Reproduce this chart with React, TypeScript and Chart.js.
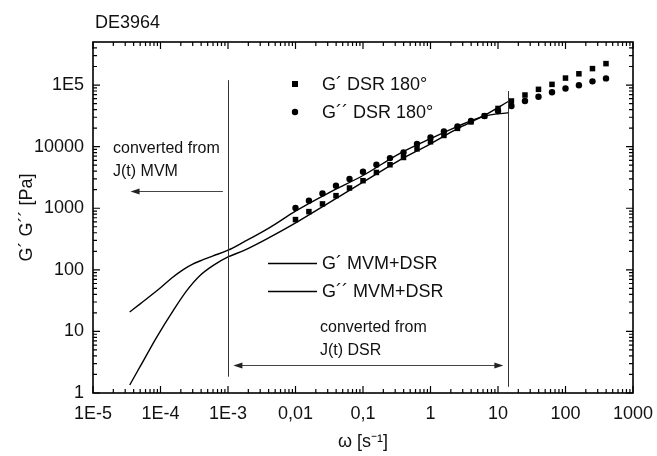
import React, { useEffect, useRef } from "react";
import { Chart, registerables } from "chart.js";

Chart.register(...registerables);

// ---- data ----
const omegaDSR = [0.01, 0.0158, 0.0251, 0.0398, 0.0631, 0.1, 0.158, 0.251, 0.398, 0.631, 1, 1.58, 2.51, 3.98, 6.31, 10, 15.8, 25.1, 39.8, 63.1, 100, 158, 251, 398];
const gPrimeDSR = [654, 881, 1175, 1600, 2130, 2800, 3810, 5080, 6670, 9200, 12000, 15200, 19800, 25200, 31500, 41700, 55100, 68900, 85200, 102600, 129800, 152300, 184900, 222800];
const gDoublePrimeDSR = [1012, 1327, 1742, 2321, 2980, 3910, 5080, 6520, 8030, 11100, 14100, 17700, 21300, 26100, 31500, 37900, 45700, 55100, 64400, 76400, 87800, 99300, 114800, 128300];

const omegaGpMVM = [3.5e-5, 5e-5, 8.8e-5, 1.55e-4, 2.45e-4, 3.85e-4, 6.05e-4, 1e-3, 1.7e-3, 4.2e-3, 0.0105, 0.0316, 0.1, 0.316, 1, 2.44, 6.07, 14.6];
const gPrimeMVM = [1.35, 2.7, 8.1, 22, 46, 81, 118, 162, 205, 340, 596, 1236, 2650, 5670, 11100, 19200, 31500, 55100];

const omegaGppMVM = [3.5e-5, 5e-5, 1e-4, 1.5e-4, 2.2e-4, 3e-4, 3.85e-4, 6e-4, 1e-3, 1.7e-3, 4.2e-3, 0.01, 0.0316, 0.1, 0.353, 1, 2.44, 6.07, 14.6];
const gDoublePrimeMVM = [20.7, 28, 51, 75, 102, 124, 139, 168, 208, 282, 490, 900, 1800, 3400, 7800, 13500, 21000, 31000, 35600];

const xTickValues = [1e-5, 1e-4, 1e-3, 0.01, 0.1, 1, 10, 100, 1000];
const xTickLabels = ["1E-5", "1E-4", "1E-3", "0,01", "0,1", "1", "10", "100", "1000"];
const yTickValues = [1, 10, 100, 1000, 10000, 100000];
const yTickLabels = ["1", "10", "100", "1000", "10000", "1E5"];

// boundary lines of the conversion ranges
const boundaryOmega = [1e-3, 14.3];
const boundaryLow = [1.84, 1.26];
const boundaryHigh = [120000, 80000];

// arrows: [level, from omega, to omega]
const arrowMVM = [1930, 8.4e-4, 3.6e-5];
const arrowDSR = [2.84, 1.2e-3, 12];

const FONT = "'Liberation Sans', Arial, Helvetica, sans-serif";

function arrowHead(ctx: CanvasRenderingContext2D, x: number, y: number, dir: number) {
  ctx.beginPath();
  ctx.moveTo(x, y);
  ctx.lineTo(x - dir * 9, y - 3);
  ctx.lineTo(x - dir * 9, y + 3);
  ctx.closePath();
  ctx.fill();
}

const decorPlugin = {
  id: "decor",
  afterDraw(chart: any) {
    const ctx: CanvasRenderingContext2D = chart.ctx;
    const xs = chart.scales.x;
    const ys = chart.scales.y;
    const { left, right, top, bottom } = chart.chartArea;
    ctx.save();

    // frame
    ctx.strokeStyle = "#000";
    ctx.lineWidth = 1.6;
    ctx.strokeRect(left, top, right - left, bottom - top);

    // ticks
    ctx.lineWidth = 1.2;
    ctx.beginPath();
    for (let k = -5; k <= 3; k++) {
      for (let m = 1; m <= 9; m++) {
        const v = m * Math.pow(10, k);
        if (v > 1000 * 1.0001) continue;
        const px = xs.getPixelForValue(v);
        const len = m === 1 ? 7 : 4;
        ctx.moveTo(px, bottom);
        ctx.lineTo(px, bottom - len);
        ctx.moveTo(px, top);
        ctx.lineTo(px, top + len);
      }
    }
    for (let k = 0; k <= 5; k++) {
      for (let m = 1; m <= 9; m++) {
        const v = m * Math.pow(10, k);
        if (v > 500000 * 0.9999) continue;
        const py = ys.getPixelForValue(v);
        const len = m === 1 ? 7 : 4;
        ctx.moveTo(left, py);
        ctx.lineTo(left + len, py);
        ctx.moveTo(right, py);
        ctx.lineTo(right - len, py);
      }
    }
    ctx.stroke();

    // boundary lines
    ctx.strokeStyle = "#333";
    ctx.lineWidth = 1;
    ctx.beginPath();
    boundaryOmega.forEach((w, i) => {
      const px = Math.round(xs.getPixelForValue(w)) + 0.5;
      ctx.moveTo(px, ys.getPixelForValue(boundaryLow[i]));
      ctx.lineTo(px, ys.getPixelForValue(boundaryHigh[i]));
    });
    ctx.stroke();

    // arrows
    ctx.fillStyle = "#222";
    ctx.strokeStyle = "#444";
    const a1y = Math.round(ys.getPixelForValue(arrowMVM[0])) + 0.5;
    const a1x0 = xs.getPixelForValue(arrowMVM[1]);
    const a1x1 = xs.getPixelForValue(arrowMVM[2]);
    ctx.beginPath();
    ctx.moveTo(a1x0, a1y);
    ctx.lineTo(a1x1 + 6, a1y);
    ctx.stroke();
    arrowHead(ctx, a1x1, a1y, -1);

    const a2y = Math.round(ys.getPixelForValue(arrowDSR[0])) + 0.5;
    const a2x0 = xs.getPixelForValue(arrowDSR[1]);
    const a2x1 = xs.getPixelForValue(arrowDSR[2]);
    ctx.beginPath();
    ctx.moveTo(a2x0 + 6, a2y);
    ctx.lineTo(a2x1 - 6, a2y);
    ctx.stroke();
    arrowHead(ctx, a2x0, a2y, -1);
    arrowHead(ctx, a2x1, a2y, 1);

    // texts
    ctx.fillStyle = "#111";
    ctx.textBaseline = "middle";
    ctx.textAlign = "left";
    ctx.font = `16px ${FONT}`;
    ctx.fillText("converted from", 113, 149);
    ctx.fillText("J(t) MVM", 113, 172);
    ctx.fillText("converted from", 320, 328);
    ctx.fillText("J(t) DSR", 320, 351);

    ctx.font = `18px ${FONT}`;
    ctx.fillText("DE3964", 95, 23);

    // legend
    ctx.fillStyle = "#000";
    ctx.fillRect(292, 81, 6, 6);
    ctx.beginPath();
    ctx.arc(295, 112, 3.2, 0, Math.PI * 2);
    ctx.fill();
    ctx.fillStyle = "#111";
    ctx.fillText("G\u00B4 DSR 180\u00B0", 322, 85);
    ctx.fillText("G\u00B4\u00B4 DSR 180\u00B0", 322, 113);

    ctx.strokeStyle = "#000";
    ctx.lineWidth = 1.4;
    ctx.beginPath();
    ctx.moveTo(268, 263.5);
    ctx.lineTo(317, 263.5);
    ctx.moveTo(268, 291.5);
    ctx.lineTo(317, 291.5);
    ctx.stroke();
    ctx.fillText("G\u00B4 MVM+DSR", 322, 264);
    ctx.fillText("G\u00B4\u00B4 MVM+DSR", 322, 292);

    // axis titles
    ctx.textAlign = "center";
    ctx.fillText("\u03C9 [s\u207B\u00B9]", (left + right) / 2, 442);
    ctx.save();
    ctx.translate(27, (top + bottom) / 2);
    ctx.rotate(-Math.PI / 2);
    ctx.fillText("G\u00B4 G\u00B4\u00B4 [Pa]", 0, 0);
    ctx.restore();

    ctx.restore();
  },
};

export default function App() {
  const canvasRef = useRef<HTMLCanvasElement | null>(null);

  useEffect(() => {
    if (!canvasRef.current) return;
    const pts = (xsArr: number[], ysArr: number[]) => xsArr.map((x, i) => ({ x, y: ysArr[i] }));
    const chart = new Chart(canvasRef.current, {
      type: "line",
      data: {
        datasets: [
          {
            label: "G\u00B4 DSR 180\u00B0",
            data: pts(omegaDSR, gPrimeDSR),
            showLine: false,
            pointStyle: "rect",
            pointRadius: 3.9,
            backgroundColor: "#000",
            borderColor: "#000",
            borderWidth: 0,
          },
          {
            label: "G\u00B4\u00B4 DSR 180\u00B0",
            data: pts(omegaDSR, gDoublePrimeDSR),
            showLine: false,
            pointStyle: "circle",
            pointRadius: 3.2,
            backgroundColor: "#000",
            borderColor: "#000",
            borderWidth: 0,
          },
          {
            label: "G\u00B4 MVM+DSR",
            data: pts(omegaGpMVM, gPrimeMVM),
            borderColor: "#000",
            borderWidth: 1.4,
            pointRadius: 0,
            cubicInterpolationMode: "monotone",
            fill: false,
          },
          {
            label: "G\u00B4\u00B4 MVM+DSR",
            data: pts(omegaGppMVM, gDoublePrimeMVM),
            borderColor: "#000",
            borderWidth: 1.4,
            pointRadius: 0,
            cubicInterpolationMode: "monotone",
            fill: false,
          },
        ],
      },
      options: {
        responsive: false,
        animation: false,
        events: [],
        layout: { padding: { left: 0, top: 42, right: 24, bottom: 0 } },
        plugins: { legend: { display: false }, tooltip: { enabled: false }, title: { display: false } },
        scales: {
          x: {
            type: "logarithmic",
            min: 1e-5,
            max: 1000,
            grid: { display: false, drawTicks: false },
            border: { display: false },
            afterBuildTicks: (scale: any) => {
              scale.ticks = xTickValues.map((v) => ({ value: v, major: true }));
            },
            afterFit: (scale: any) => {
              scale.height = 63;
              scale.paddingLeft = 0;
              scale.paddingRight = 0;
            },
            ticks: {
              autoSkip: false,
              maxRotation: 0,
              padding: 10,
              color: "#111",
              font: { family: FONT, size: 18 },
              callback: (value: any) => {
                const i = xTickValues.findIndex((v) => Math.abs(Math.log10(v) - Math.log10(Number(value))) < 1e-6);
                return i >= 0 ? xTickLabels[i] : "";
              },
            },
          },
          y: {
            type: "logarithmic",
            min: 1,
            max: 500000,
            grid: { display: false, drawTicks: false },
            border: { display: false },
            afterBuildTicks: (scale: any) => {
              scale.ticks = yTickValues.map((v) => ({ value: v, major: true }));
            },
            afterFit: (scale: any) => {
              scale.width = 93;
              scale.paddingTop = 0;
              scale.paddingBottom = 0;
            },
            ticks: {
              autoSkip: false,
              padding: 9,
              color: "#111",
              font: { family: FONT, size: 18 },
              callback: (value: any) => {
                const i = yTickValues.findIndex((v) => Math.abs(Math.log10(v) - Math.log10(Number(value))) < 1e-6);
                return i >= 0 ? yTickLabels[i] : "";
              },
            },
          },
        },
      },
      plugins: [decorPlugin],
    } as any);
    return () => chart.destroy();
  }, []);

  return (
    <div style={{ position: "fixed", left: 0, top: 0, width: 657, height: 456, background: "#fff" }}>
      <canvas ref={canvasRef} width={657} height={456} />
    </div>
  );
}
